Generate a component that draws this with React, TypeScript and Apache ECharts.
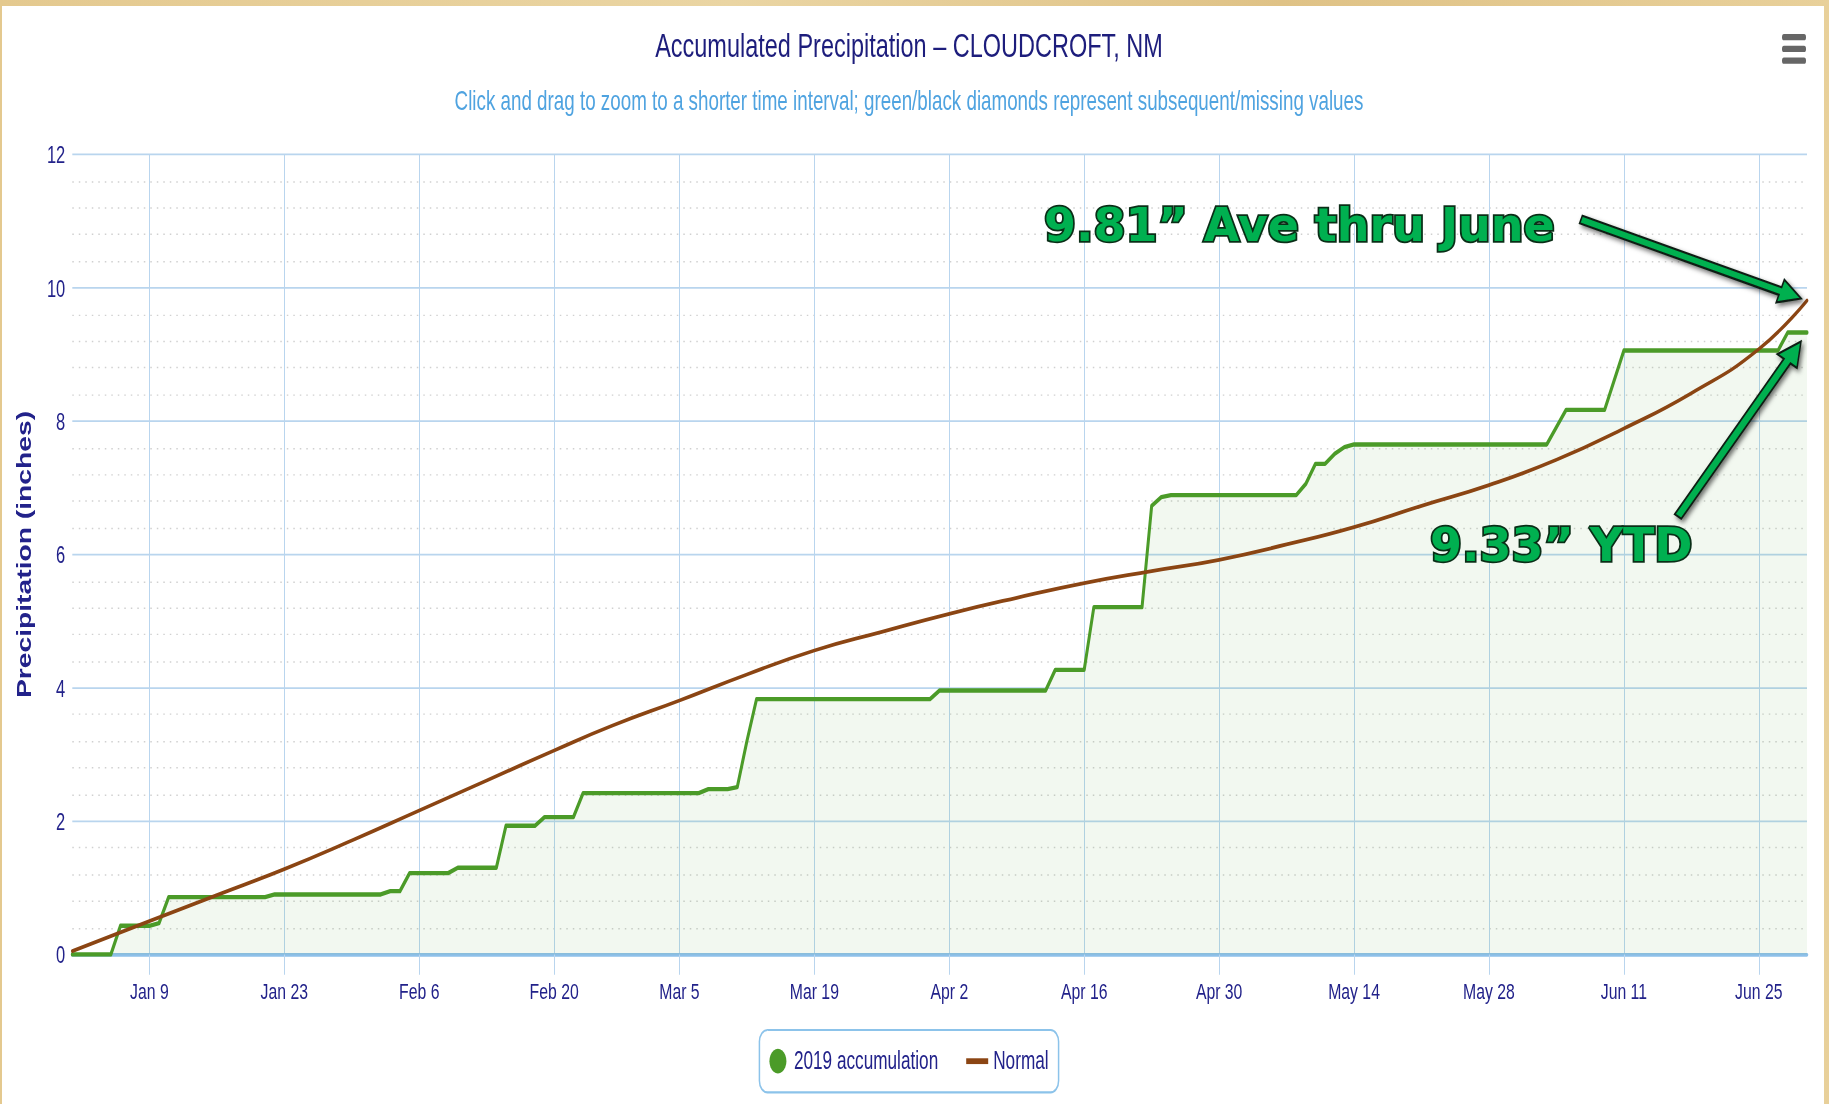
import React, { useEffect, useRef } from 'react';
import * as echarts from 'echarts';

// ---------- data ----------
const YEAR = 2019;
const TITLE = 'Accumulated Precipitation \u2013 CLOUDCROFT, NM';
const SUBTITLE =
  'Click and drag to zoom to a shorter time interval; green/black diamonds represent subsequent/missing values';
const Y_NAME = 'Precipitation (inches)';
const SERIES_ACCUM = '2019 accumulation';
const SERIES_NORMAL = 'Normal';
const NOTE_NORMAL = '9.81\u201D Ave thru June';
const NOTE_ACCUM = '9.33\u201D YTD';

const rangeDates = ['01-01', '06-30'];

const accumDates = [
  '01-01', '01-05', '01-06', '01-09', '01-10', '01-11', '01-21', '01-22', '02-02', '02-03',
  '02-04', '02-05', '02-09', '02-10', '02-14', '02-15', '02-18', '02-19', '02-22', '02-23',
  '03-07', '03-08', '03-10', '03-11', '03-12', '03-13', '03-31', '04-01', '04-12', '04-13',
  '04-16', '04-17', '04-22', '04-23', '04-24', '04-25', '05-08', '05-09', '05-10', '05-11',
  '05-12', '05-13', '05-14', '06-03', '06-05', '06-09', '06-11', '06-27', '06-28', '06-30',
];
const accumValues = [
  0, 0, 0.43, 0.43, 0.47, 0.86, 0.86, 0.9, 0.9, 0.95,
  0.95, 1.22, 1.22, 1.3, 1.3, 1.93, 1.93, 2.06, 2.06, 2.42,
  2.42, 2.48, 2.48, 2.51, 3.2, 3.83, 3.83, 3.96, 3.96, 4.27,
  4.27, 5.21, 5.21, 6.73, 6.86, 6.89, 6.89, 7.06, 7.36, 7.36,
  7.51, 7.61, 7.65, 7.65, 8.17, 8.17, 9.06, 9.06, 9.33, 9.33,
];

const normalDates = [
  '01-01', '01-09', '01-16', '01-23', '01-30', '02-06', '02-13', '02-20', '02-26', '03-05',
  '03-12', '03-19', '03-26', '04-02', '04-09', '04-16', '04-23', '04-30', '05-07', '05-14',
  '05-21', '05-28', '06-04', '06-11', '06-18', '06-25', '06-30',
];
const normalValues = [
  0.05, 0.5, 0.89, 1.28, 1.71, 2.16, 2.61, 3.06, 3.43, 3.81,
  4.2, 4.56, 4.84, 5.11, 5.35, 5.57, 5.75, 5.92, 6.15, 6.41,
  6.73, 7.04, 7.42, 7.89, 8.42, 9.08, 9.81,
];

const tickDates = [
  '01-09', '01-23', '02-06', '02-20', '03-05', '03-19', '04-02',
  '04-16', '04-30', '05-14', '05-28', '06-11', '06-25',
];
const tickLabels = [
  'Jan 9', 'Jan 23', 'Feb 6', 'Feb 20', 'Mar 5', 'Mar 19', 'Apr 2',
  'Apr 16', 'Apr 30', 'May 14', 'May 28', 'Jun 11', 'Jun 25',
];

const yTicks = { min: 0, max: 12, interval: 2, minorSplit: 5 };

// ---------- helpers ----------
function dayIndex(md: string): number {
  const [m, d] = md.split('-').map(Number);
  return (Date.UTC(YEAR, m - 1, d) - Date.UTC(YEAR, 0, 1)) / 86400000;
}

// ---------- layout / style ----------
const S = 1.45; // vertical stretch of the reference picture
const PAGE_W = 1829;
const PAGE_H = 1104;
const CHART_W = 1818;
const CHART_H = PAGE_H / S;
const fy = (v: number) => v / S;

const FONT = '"Liberation Sans", Arial, sans-serif';
const NAVY = '#22228a';
const TITLE_COLOR = '#1d1d7c';
const SUB_COLOR = '#4fa3e0';
const GREEN = '#4b9b28';
const BROWN = '#8b4513';
const GRID_BLUE = '#b9d5ee';
const AXIS_BLUE = '#8ec0ea';
const NOTE_GREEN = '#00b050';
const NOTE_DARK = '#0a2e17';

function arrowPoints(tail: number[], tip: number[], shaft: number, headW: number, headL: number) {
  const dx = tip[0] - tail[0];
  const dy = tip[1] - tail[1];
  const len = Math.hypot(dx, dy);
  const ux = dx / len;
  const uy = dy / len;
  const nx = -uy;
  const ny = ux;
  const bx = tip[0] - ux * headL;
  const by = tip[1] - uy * headL;
  const pts = [
    [tail[0] + nx * shaft, tail[1] + ny * shaft],
    [bx + nx * shaft, by + ny * shaft],
    [bx + nx * headW, by + ny * headW],
    [tip[0], tip[1]],
    [bx - nx * headW, by - ny * headW],
    [bx - nx * shaft, by - ny * shaft],
    [tail[0] - nx * shaft, tail[1] - ny * shaft],
  ];
  return pts.map(([x, y]) => [x, y / S]);
}

export default function App() {
  const ref = useRef<HTMLDivElement>(null);

  useEffect(() => {
    const el = ref.current;
    if (!el) return;
    const chart = echarts.init(el, null, { renderer: 'svg' });

    const accum = accumDates.map((d, i) => [dayIndex(d), accumValues[i]]);
    const normal = normalDates.map((d, i) => [dayIndex(d), normalValues[i]]);
    const ticks = tickDates.map(dayIndex);
    const labelOf = (v: number) => {
      const i = ticks.indexOf(v);
      return i >= 0 ? tickLabels[i] : '';
    };

    chart.setOption({
      animation: false,
      backgroundColor: 'transparent',
      textStyle: { fontFamily: FONT },
      title: [
        {
          text: TITLE,
          left: 'center',
          top: 14,
          textStyle: { fontSize: 23.5, fontWeight: 'normal', color: TITLE_COLOR, fontFamily: FONT },
        },
        {
          text: SUBTITLE,
          left: 'center',
          top: 55,
          textStyle: { fontSize: 18.8, fontWeight: 'normal', color: SUB_COLOR, fontFamily: FONT },
        },
      ],
      legend: {
        left: 'center',
        top: fy(1030),
        padding: [13, 10],
        itemWidth: 22,
        itemHeight: 17,
        itemGap: 28,
        borderColor: '#8cc3ea',
        borderWidth: 1.5,
        borderRadius: 8,
        backgroundColor: '#ffffff',
        symbolKeepAspect: true,
        textStyle: { fontSize: 17.2, color: NAVY, fontFamily: FONT },
        data: [
          { name: SERIES_ACCUM, icon: 'circle' },
          { name: SERIES_NORMAL, icon: 'path://M0,0L22,0L22,4L0,4Z' },
        ],
      },
      grid: {
        left: 72.3,
        right: CHART_W - 1807,
        top: fy(154.5),
        bottom: CHART_H - fy(955),
        outerBoundsMode: 'none',
        containLabel: false,
      },
      xAxis: {
        type: 'value',
        min: dayIndex(rangeDates[0]),
        max: dayIndex(rangeDates[1]),
        axisLine: { show: true, lineStyle: { color: AXIS_BLUE, width: 2.5 } },
        axisTick: {
          show: true,
          customValues: ticks,
          length: 14,
          lineStyle: { color: GRID_BLUE, width: 1 },
        },
        axisLabel: {
          customValues: ticks,
          formatter: (v: number) => labelOf(v),
          margin: 17,
          fontSize: 15.8,
          color: NAVY,
          fontFamily: FONT,
        },
        splitLine: { show: true, lineStyle: { color: GRID_BLUE, width: 1 } },
      },
      yAxis: {
        type: 'value',
        min: yTicks.min,
        max: yTicks.max,
        interval: yTicks.interval,
        name: Y_NAME,
        nameLocation: 'middle',
        nameGap: 38,
        nameTextStyle: { fontSize: 19.5, fontWeight: 'bold', color: NAVY, fontFamily: FONT },
        axisLine: { show: false },
        axisTick: { show: false },
        axisLabel: { margin: 7, fontSize: 16.5, color: NAVY, fontFamily: FONT },
        splitLine: { show: true, lineStyle: { color: GRID_BLUE, width: 1.2 } },
        minorTick: { show: false, splitNumber: yTicks.minorSplit },
        minorSplitLine: { show: true, lineStyle: { color: '#d0d0d0', width: 1, type: [1.5, 5] } },
      },
      series: [
        {
          name: SERIES_ACCUM,
          type: 'line',
          data: accum,
          symbol: 'none',
          itemStyle: { color: GREEN },
          lineStyle: { color: GREEN, width: 3, join: 'round', cap: 'round' },
          areaStyle: { color: 'rgba(76,160,40,0.1)' },
          z: 2,
        },
        {
          name: SERIES_NORMAL,
          type: 'line',
          data: normal,
          symbol: 'none',
          smooth: 0.5,
          itemStyle: { color: BROWN },
          lineStyle: { color: BROWN, width: 2.6, join: 'round', cap: 'round' },
          z: 3,
        },
      ],
    });

    // annotations anchored to the last data points
    const lastN = normal[normal.length - 1];
    const lastA = accum[accum.length - 1];
    const pN = chart.convertToPixel({ gridIndex: 0 }, lastN) as number[];
    const pA = chart.convertToPixel({ gridIndex: 0 }, lastA) as number[];
    const tipN = [pN[0] - 6, pN[1] * S - 2];
    const tailN = [tipN[0] - 220, tipN[1] - 79];
    const tipA = [pA[0] - 6, pA[1] * S + 9];
    const tailA = [tipA[0] - 123, tipA[1] + 175];

    const arrowStyle = {
      fill: NOTE_GREEN,
      stroke: '#0d1f12',
      lineWidth: 1.5,
      shadowBlur: 4,
      shadowColor: 'rgba(0,0,0,0.55)',
      shadowOffsetX: 2,
      shadowOffsetY: 2,
    };
    const noteStyle = (text: string) => ({
      text,
      font: 'bold 46px "DejaVu Sans", sans-serif',
      fill: NOTE_GREEN,
      stroke: NOTE_DARK,
      lineWidth: 3.5,
      strokeFirst: true,
      align: 'left',
      textAlign: 'left',
      verticalAlign: 'middle',
      textVerticalAlign: 'middle',
      shadowBlur: 4,
      shadowColor: 'rgba(0,0,0,0.6)',
      shadowOffsetX: 3,
      shadowOffsetY: 3,
    });

    chart.setOption({
      graphic: [
        { type: 'rect', id: 'm1', shape: { x: 1782, y: fy(34), width: 24, height: fy(6.3), r: 2 }, style: { fill: '#666666' } },
        { type: 'rect', id: 'm2', shape: { x: 1782, y: fy(45.8), width: 24, height: fy(6.3), r: 2 }, style: { fill: '#666666' } },
        { type: 'rect', id: 'm3', shape: { x: 1782, y: fy(57.5), width: 24, height: fy(6.3), r: 2 }, style: { fill: '#666666' } },
        {
          type: 'polygon',
          id: 'arrowN',
          z: 100,
          shape: { points: arrowPoints(tailN, tipN, 4, 12, 22) },
          style: arrowStyle,
        },
        {
          type: 'polygon',
          id: 'arrowA',
          z: 100,
          shape: { points: arrowPoints(tailA, tipA, 4, 12, 24) },
          style: arrowStyle,
        },
        {
          type: 'text',
          id: 'noteN',
          z: 101,
          x: 1044,
          y: fy(224.5),
          scaleY: 1 / S,
          style: noteStyle(NOTE_NORMAL),
        },
        {
          type: 'text',
          id: 'noteA',
          z: 101,
          x: 1430,
          y: fy(544.5),
          scaleY: 1 / S,
          style: noteStyle(NOTE_ACCUM),
        },
      ],
    });

    return () => chart.dispose();
  }, []);

  return (
    <div
      style={{
        position: 'fixed',
        left: 0,
        top: 0,
        width: PAGE_W,
        height: PAGE_H,
        overflow: 'hidden',
        background: 'linear-gradient(90deg, #e4c98f, #ead5a3 40%, #dfc286 70%, #e8d09a)',
      }}
    >
      <div style={{ position: 'absolute', left: 2, top: 6, width: 1822, height: 1098, background: '#ffffff' }} />
      <div
        ref={ref}
        style={{
          position: 'absolute',
          left: 0,
          top: 0,
          width: CHART_W,
          height: CHART_H,
          transform: `scaleY(${S})`,
          transformOrigin: '0 0',
        }}
      />
    </div>
  );
}
